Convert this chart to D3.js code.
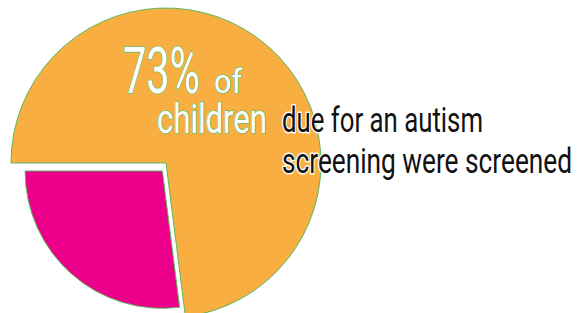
<!DOCTYPE html>
<html>
<head>
<meta charset="utf-8">
<script src="https://cdn.jsdelivr.net/npm/d3@7"></script>
<style>
  body { margin: 0; background: #fff; }
  svg { display: block; }
  text { font-family: Roboto, "Noto Sans", sans-serif; }
</style>
</head>
<body>
<svg id="chart" width="587" height="313"></svg>
<script>
// Share of children due for an autism screening who were screened.
const categories = ["Screened", "Not screened"];
const values = [73, 27];
const sliceColors = ["#F9AE41", "#EC008B"];

// Headline pieces (big number, small word, second line) and the side note.
const headline = ["73%", "of", "children"];
const noteLines = ["due for an autism", "screening were screened"];

const width = 587, height = 313;
const cx = 166, cy = 163;
const outerR = 155;

const svg = d3.select("#chart");
const g = svg.append("g").attr("transform", `translate(${cx},${cy})`);

// Start at 9 o'clock so the pink slice sits in the lower left quarter.
const pie = d3.pie()
    .sort(null)
    .value(d => d)
    .startAngle(-Math.PI / 2)
    .endAngle(3 * Math.PI / 2);

const arcs = pie(values);

// The small slice is pulled out a little and drawn a bit smaller.
const sliceRadius = d => d.index === 0 ? outerR : outerR * 0.886;
const sliceShift = d => d.index === 0 ? [0, 0] : [-3.6, 8];

g.selectAll("path.slice")
    .data(arcs)
    .enter().append("path")
    .attr("class", "slice")
    .attr("d", d => d3.arc().innerRadius(0).outerRadius(sliceRadius(d))(d))
    .attr("transform", d => `translate(${sliceShift(d)})`)
    .attr("fill", (d, i) => sliceColors[i])
    .attr("stroke", "#5cb85c")
    .attr("stroke-width", 1)
    .append("title").text((d, i) => categories[i] + ": " + values[i] + "%");

// Big white text with a green rim.
const head = svg.append("g")
    .attr("fill", "#ffffff")
    .attr("stroke", "#6cc06c")
    .attr("stroke-width", 1.6)
    .attr("paint-order", "stroke");

head.append("text")
    .attr("x", 123).attr("y", 93)
    .attr("font-size", 65)
    .attr("textLength", 77).attr("lengthAdjust", "spacingAndGlyphs")
    .text(headline[0]);

head.append("text")
    .attr("x", 214).attr("y", 93)
    .attr("font-size", 34)
    .attr("textLength", 28).attr("lengthAdjust", "spacingAndGlyphs")
    .text(headline[1]);

head.append("text")
    .attr("x", 157).attr("y", 133)
    .attr("font-size", 40)
    .attr("textLength", 110).attr("lengthAdjust", "spacingAndGlyphs")
    .text(headline[2]);

// Black note with a white halo so it reads over the orange.
const noteWidths = [201, 290];
svg.append("g")
    .attr("fill", "#111")
    .attr("stroke", "#ffffff")
    .attr("stroke-width", 3)
    .attr("stroke-linejoin", "round")
    .attr("paint-order", "stroke")
    .selectAll("text")
    .data(noteLines)
    .enter().append("text")
    .attr("x", 282)
    .attr("y", (d, i) => 132 + i * 41)
    .attr("font-size", 35)
    .attr("textLength", (d, i) => noteWidths[i])
    .attr("lengthAdjust", "spacingAndGlyphs")
    .text(d => d);
</script>
</body>
</html>
